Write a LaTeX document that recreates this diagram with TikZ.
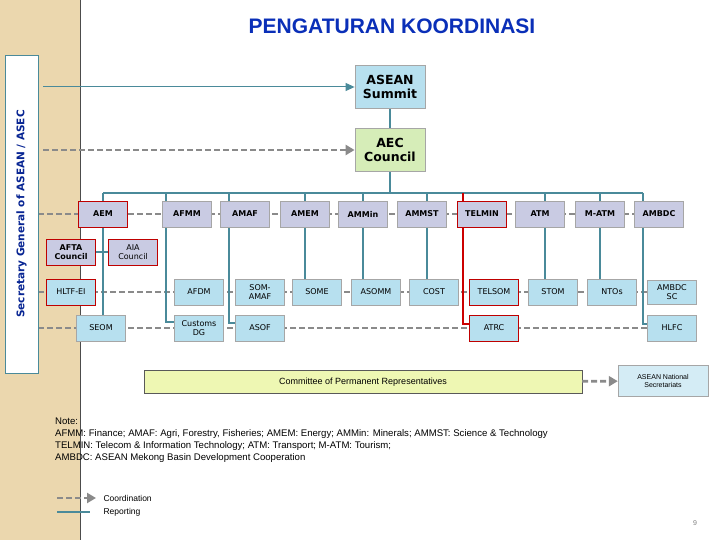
\documentclass[tikz,border=0pt]{standalone}
\usepackage{fontspec}
\setmainfont{Liberation Sans}
\newfontfamily\tah{DejaVu Sans}
\usetikzlibrary{arrows.meta}
\pgfdeclarelayer{bg}
\pgfsetlayers{bg,main}
\definecolor{rep}{HTML}{4A8A9A}
\definecolor{crd}{HTML}{8A8A8A}
\definecolor{lav}{HTML}{C9CBE3}
\definecolor{lbl}{HTML}{B7E0EF}
\definecolor{lgr}{HTML}{D6EDB8}
\definecolor{beige}{HTML}{EBD7AE}
\definecolor{ttl}{HTML}{0A2FB8}
\tikzset{
 box/.style={draw=gray!70,line width=0.8pt,minimum width=49pt,minimum height=26pt,inner sep=1pt,align=center,font=\tah\fontsize{8}{8.5}\selectfont},
 top/.style={box,fill=lav,font=\tah\bfseries\fontsize{8}{8.5}\selectfont},
 low/.style={box,fill=lbl},
 redb/.style={draw=red!75!black},
 report/.style={draw=rep,line width=2.2pt},
 coord/.style={draw=crd,line width=2.8pt,dash pattern=on 6pt off 3pt},
}
\begin{document}
\begin{tikzpicture}[x=1pt,y=-1pt]
\useasboundingbox (0,0) rectangle (720,540);
\begin{pgfonlayer}{bg}
\fill[white] (0,0) rectangle (720,540);
\fill[beige] (0,0) rectangle (80,540);
\draw[gray!60!black,line width=0.8pt] (80,0) -- (80,540);
\end{pgfonlayer}
\node[draw=rep,fill=white,minimum width=33pt,minimum height=318pt,inner sep=0] (sg) at (21.5,214) {};
\node[rotate=90,text=ttl!80!black,font=\tah\bfseries\fontsize{10.5}{12}\selectfont] (sgt) at (21.5,214) {Secretary General of ASEAN / ASEC};
\node[text=ttl,font=\bfseries\fontsize{21}{24}\selectfont] (title) at (392,26) {PENGATURAN KOORDINASI};
% top
\node[box,fill=lbl,minimum width=70pt,minimum height=43pt,font=\tah\bfseries\fontsize{12.5}{13.5}\selectfont] (summit) at (390,87) {ASEAN\\Summit};
\node[box,fill=lgr,minimum width=70pt,minimum height=43pt,font=\tah\bfseries\fontsize{12.5}{13.5}\selectfont] (aec) at (390,150) {AEC\\Council};
% row 1
\node[top,redb] (aem) at (103,214) {AEM};
\node[top] (afmm) at (187,214) {AFMM};
\node[top] (amaf) at (245,214) {AMAF};
\node[top] (amem) at (305,214) {AMEM};
\node[top] (ammin) at (363,214) {AMMin};
\node[top] (ammst) at (422,214) {AMMST};
\node[top,redb] (telmin) at (482,214) {TELMIN};
\node[top] (atm) at (540,214) {ATM};
\node[top] (matm) at (600,214) {M-ATM};
\node[top] (ambdc) at (659,214) {AMBDC};
\node[top,redb] (afta) at (71,252) {AFTA\\Council};
\node[top,redb,font=\tah\fontsize{8}{8.5}\selectfont] (aia) at (133,252) {AIA\\Council};
% row 2
\node[low,redb] (hltf) at (71,292) {HLTF-EI};
\node[low] (afdm) at (199,292) {AFDM};
\node[low] (somamaf) at (260,292) {SOM-\\AMAF};
\node[low] (some) at (317,292) {SOME};
\node[low] (asomm) at (376,292) {ASOMM};
\node[low] (cost) at (434,292) {COST};
\node[low,redb] (telsom) at (494,292) {TELSOM};
\node[low] (stom) at (553,292) {STOM};
\node[low] (ntos) at (612,292) {NTOs};
\node[low,minimum height=24pt] (ambdcsc) at (672,292) {AMBDC\\SC};
% row 3
\node[low] (seom) at (101,328) {SEOM};
\node[low] (cdg) at (199,328) {Customs\\DG};
\node[low] (asof) at (260,328) {ASOF};
\node[low,redb] (atrc) at (494,328) {ATRC};
\node[low] (hlfc) at (672,328) {HLFC};
% committee
\node[draw=gray!70!black,fill=lgr!70!yellow!60,minimum width=438pt,minimum height=23pt,inner sep=0,font=\fontsize{9}{10}\selectfont] (cpr) at (363,382) {Committee of Permanent Representatives};
\node[draw=gray!70,fill=lbl!60,minimum width=90pt,minimum height=31pt,inner sep=0,align=center,font=\fontsize{7}{8}\selectfont] (nat) at (663,381) {ASEAN National\\Secretariats};
\coordinate (c1) at (38,214);
\coordinate (c2) at (38,292);
\coordinate (c3) at (38,328);
\coordinate (c4) at (43,150);
\coordinate (c5) at (43,87);
\begin{pgfonlayer}{bg}
\draw[coord] (c1) -- (ambdc);
\draw[coord] (c2) -- (ambdcsc);
\draw[coord] (c3) -- (hlfc);
% reporting
\draw[report] (summit) -- (aec);
\draw[report] (aec.south) -- (390,193);
\draw[report] (103,193) -- (643,193);
\foreach \x in {103,166,229,305,363,427,545,600,643}{
  \draw[report] (\x,193) -- (\x,201);}
\draw[report] (103,227) -- (103,315);
\draw[report] (afta.east) -- (aia.west);
\draw[report] (166,227) -- (166,322) -- (cdg.west |- 166,322);
\draw[report] (229,227) -- (229,323) -- (asof.west |- 229,323);
\draw[report] (305,227) -- (305,279);
\draw[report] (363,227) -- (363,279);
\draw[report] (427,227) -- (427,279);
\draw[report] (545,227) -- (545,279);
\draw[report] (600,227) -- (600,279);
\draw[report] (643,227) -- (643,324) -- (hlfc.west |- 643,324);
\draw[draw=red!80!black,line width=1.5pt] (463,193) -- (463,324) -- (atrc.west |- 463,324);
\end{pgfonlayer}
\draw[coord,-{Triangle[length=9pt,width=10pt]}] (c4) -- (aec);
\draw[draw=rep,line width=1pt,-{Triangle[length=9pt,width=8pt]}] (c5) -- (summit);
\draw[coord,-{Triangle[length=9pt,width=10pt]}] (cpr) -- (nat);
% notes
\node[anchor=north west,align=left,inner sep=0,font=\fontsize{9.6}{12}\selectfont] (note) at (55,418) {Note:\\AFMM: Finance; AMAF: Agri, Forestry, Fisheries; AMEM: Energy; AMMin: Minerals; AMMST: Science \& Technology\\TELMIN: Telecom \& Information Technology; ATM: Transport; M-ATM: Tourism;\\AMBDC: ASEAN Mekong Basin Development Cooperation};
\coordinate (l1a) at (57,498);
\coordinate (l1b) at (96,498);
\coordinate (l2a) at (57,512);
\coordinate (l2b) at (90,512);
\draw[coord,-{Triangle[length=9pt,width=10pt]}] (l1a) -- (l1b);
\draw[draw=rep,line width=1.5pt] (l2a) -- (l2b);
\node[anchor=west,font=\fontsize{8.5}{9}\selectfont] (lc) at (100,498) {Coordination};
\node[anchor=west,font=\fontsize{8.5}{9}\selectfont] (lr) at (100,512) {Reporting};
\node[text=gray,font=\fontsize{7}{8}\selectfont] (pg) at (695,523) {9};
\end{tikzpicture}
\end{document}
